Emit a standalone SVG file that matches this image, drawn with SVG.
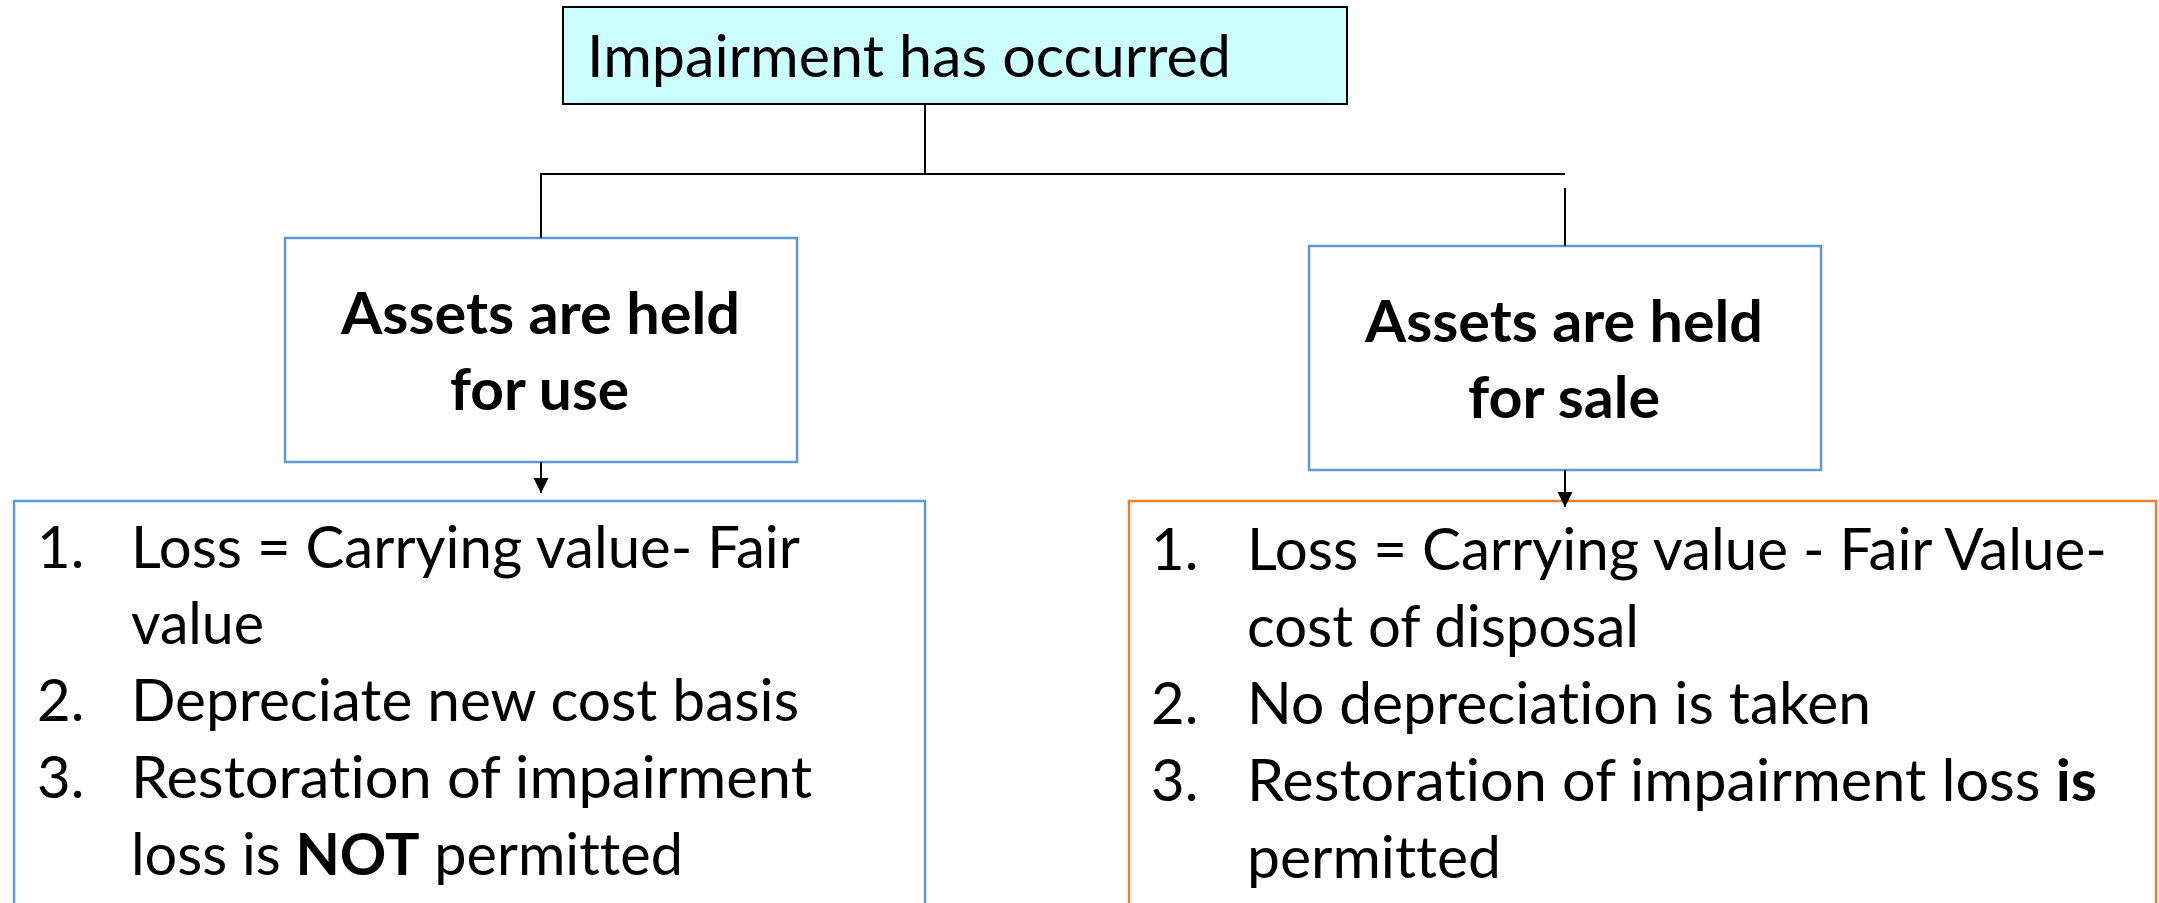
<svg xmlns="http://www.w3.org/2000/svg" width="2159" height="903" viewBox="0 0 2159 903">
<defs>
<marker id="arr" markerUnits="userSpaceOnUse" markerWidth="16" markerHeight="16" refX="15" refY="7.5" orient="auto">
<path d="M0,0 L15,7.5 L0,15 z" fill="#000"/>
</marker>
<style>
.t{font-family:Lato,"Open Sans","Liberation Sans",sans-serif;fill:#000;font-variant-ligatures:none;font-feature-settings:"liga" 0,"clig" 0}
.reg{font-size:58px}
.hd{font-size:57px;font-weight:bold}
.b{font-weight:bold}
.blue{fill:#fff;stroke:#5B9BD5;stroke-width:2.5}
.orange{fill:#fff;stroke:#ED7D31;stroke-width:2.5}
.ln{stroke:#000;stroke-width:2;fill:none}
</style>
</defs>
<rect width="2159" height="903" fill="#fff"/>
<g id="node-impairment">
<rect x="563" y="7" width="784" height="97" fill="#CCFFFF" stroke="#000" stroke-width="2"/>
<text class="t reg" x="587" y="77" textLength="644" lengthAdjust="spacingAndGlyphs">Impairment has occurred</text>
</g>
<g id="node-held-use">
<rect class="blue" x="285" y="238" width="512" height="224"/>
<text class="t hd" x="341" y="334" textLength="399" lengthAdjust="spacingAndGlyphs">Assets are held</text>
<text class="t hd" x="450" y="410" textLength="179" lengthAdjust="spacingAndGlyphs">for use</text>
</g>
<g id="node-held-sale">
<rect class="blue" x="1309" y="246" width="512" height="224"/>
<text class="t hd" x="1365" y="342" textLength="398" lengthAdjust="spacingAndGlyphs">Assets are held</text>
<text class="t hd" x="1468" y="418" textLength="192" lengthAdjust="spacingAndGlyphs">for sale</text>
</g>
<g id="node-use-rules">
<rect class="blue" x="14" y="501" width="911" height="430"/>
<text class="t reg" x="37" y="568">1.</text>
<text class="t reg" x="131" y="568" textLength="669" lengthAdjust="spacingAndGlyphs">Loss = Carrying value- Fair</text>
<text class="t reg" x="131" y="644" textLength="133" lengthAdjust="spacingAndGlyphs">value</text>
<text class="t reg" x="37" y="721">2.</text>
<text class="t reg" x="131" y="721" textLength="668" lengthAdjust="spacingAndGlyphs">Depreciate new cost basis</text>
<text class="t reg" x="37" y="798">3.</text>
<text class="t reg" x="131" y="798" textLength="681" lengthAdjust="spacingAndGlyphs">Restoration of impairment</text>
<text class="t reg" x="131" y="875" textLength="552" lengthAdjust="spacingAndGlyphs">loss is <tspan class="b">NOT</tspan> permitted</text>
</g>
<g id="node-sale-rules">
<rect class="orange" x="1129" y="501" width="1027" height="430"/>
<text class="t reg" x="1151" y="570">1.</text>
<text class="t reg" x="1247" y="570" textLength="860" lengthAdjust="spacingAndGlyphs">Loss = Carrying value - Fair Value-</text>
<text class="t reg" x="1247" y="647" textLength="392" lengthAdjust="spacingAndGlyphs">cost of disposal</text>
<text class="t reg" x="1151" y="724">2.</text>
<text class="t reg" x="1247" y="724" textLength="624" lengthAdjust="spacingAndGlyphs">No depreciation is taken</text>
<text class="t reg" x="1151" y="801">3.</text>
<text class="t reg" x="1247" y="801" textLength="850" lengthAdjust="spacingAndGlyphs">Restoration of impairment loss <tspan class="b">is</tspan></text>
<text class="t reg" x="1247" y="878" textLength="254" lengthAdjust="spacingAndGlyphs">permitted</text>
</g>
<g id="connectors">
<line class="ln" x1="925" y1="104" x2="925" y2="174"/>
<line class="ln" x1="540" y1="174" x2="1565" y2="174"/>
<line class="ln" x1="541" y1="173" x2="541" y2="238"/>
<line class="ln" x1="1565" y1="188" x2="1565" y2="246"/>
<line class="ln" x1="541" y1="462" x2="541" y2="493" marker-end="url(#arr)"/>
<line class="ln" x1="1565" y1="470" x2="1565" y2="507" marker-end="url(#arr)"/>
</g>
</svg>
